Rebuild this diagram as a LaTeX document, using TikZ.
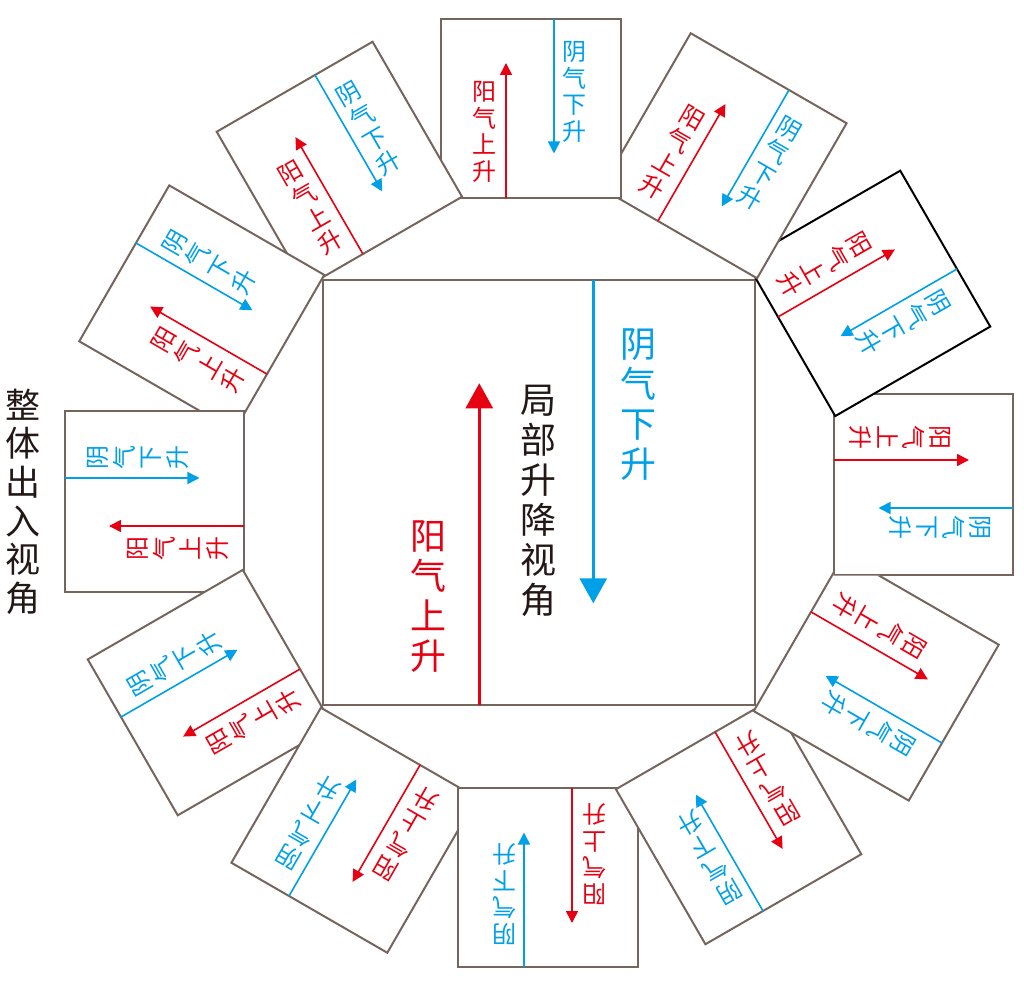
\documentclass[tikz,border=0pt]{standalone}
\usepackage{fontspec}
\newfontfamily\cjk{Noto Sans CJK SC}
\usetikzlibrary{arrows.meta}
\definecolor{bord}{RGB}{118,101,93}
\definecolor{yred}{RGB}{230,0,18}
\definecolor{yblue}{RGB}{0,160,233}
\definecolor{ink}{RGB}{35,24,21}
\tikzset{
  sqbox/.style={line width=2pt, fill=white, line join=miter},
  redarr/.style={draw=yred, line width=1.6pt, -{Triangle[length=12pt,width=12pt]}},
  bluearr/.style={draw=yblue, line width=1.6pt, -{Triangle[length=12pt,width=12pt]}},
  bigred/.style={draw=yred, line width=2.8pt, -{Triangle[length=25pt,width=27pt]}},
  bigblue/.style={draw=yblue, line width=2.8pt, -{Triangle[length=25pt,width=27pt]}},
  smalltxt/.style={font=\cjk\fontsize{24}{26.5}\selectfont, align=center, inner sep=0pt},
  bigtxt/.style={font=\cjk\fontsize{36}{40}\selectfont, align=center, inner sep=0pt},
}
\newcommand\outersq[3]{%
  \begin{scope}[rotate=#1-90, transform shape]
    \draw[sqbox, draw=#2] (-98.5,295) rectangle (81.5,474);
    \coordinate (b#3s) at (15,474);
    \coordinate (b#3e) at (15,339.5);
    \coordinate (r#3s) at (-33,295);
    \coordinate (r#3e) at (-33,430);
    \draw[bluearr] (b#3s) -- (b#3e);
    \draw[redarr] (r#3s) -- (r#3e);
    \node[smalltxt, text=yblue] (tb#3) at (35,401) {阴\\气\\下\\升};
    \node[smalltxt, text=yred] (tr#3) at (-55,361) {阳\\气\\上\\升};
  \end{scope}%
}
\begin{document}
\begin{tikzpicture}[x=1pt, y=1pt]
  \useasboundingbox (-539,-494) rectangle (485,493);
  \fill[white] (-539,-494) rectangle (485,493);
  % central square
  \draw[draw=bord, line width=2pt] (-216,213) rectangle (216,-212);
  \coordinate (cbs) at (54.3,213);
  \coordinate (cbe) at (54.3,-110.3);
  \coordinate (crs) at (-59.7,-212);
  \coordinate (cre) at (-59.7,109.7);
  \draw[bigblue] (cbs) -- (cbe);
  \draw[bigred] (crs) -- (cre);
  \node[bigtxt, text=yblue] (cbt) at (99.3,88.2) {阴\\气\\下\\升};
  \node[bigtxt, text=ink] (cmt) at (-0.7,-7.9) {局\\部\\升\\降\\视\\角};
  \node[bigtxt, text=yred] (crt) at (-110.7,-103.7) {阳\\气\\上\\升};
  \node[bigtxt, text=ink, font=\cjk\fontsize{35}{38.7}\selectfont] (lft) at (-515.7,-8.7) {整\\体\\出\\入\\视\\角};
  % outer squares
  \outersq{0}{bord}{a}
  \outersq{30}{black}{b}
  \outersq{60}{bord}{c}
  \outersq{90}{bord}{d}
  \outersq{120}{bord}{e}
  \outersq{150}{bord}{f}
  \outersq{180}{bord}{g}
  \outersq{210}{bord}{h}
  \outersq{240}{bord}{i}
  \outersq{270}{bord}{j}
  \outersq{300}{bord}{k}
  \begin{scope}
    \clip (-600,-600) -- (600,-600) -- (600,-82.5) -- (294,-82.5) -- (294,600) -- (-600,600) -- cycle;
    \outersq{330}{bord}{l}
  \end{scope}
\end{tikzpicture}
\end{document}
